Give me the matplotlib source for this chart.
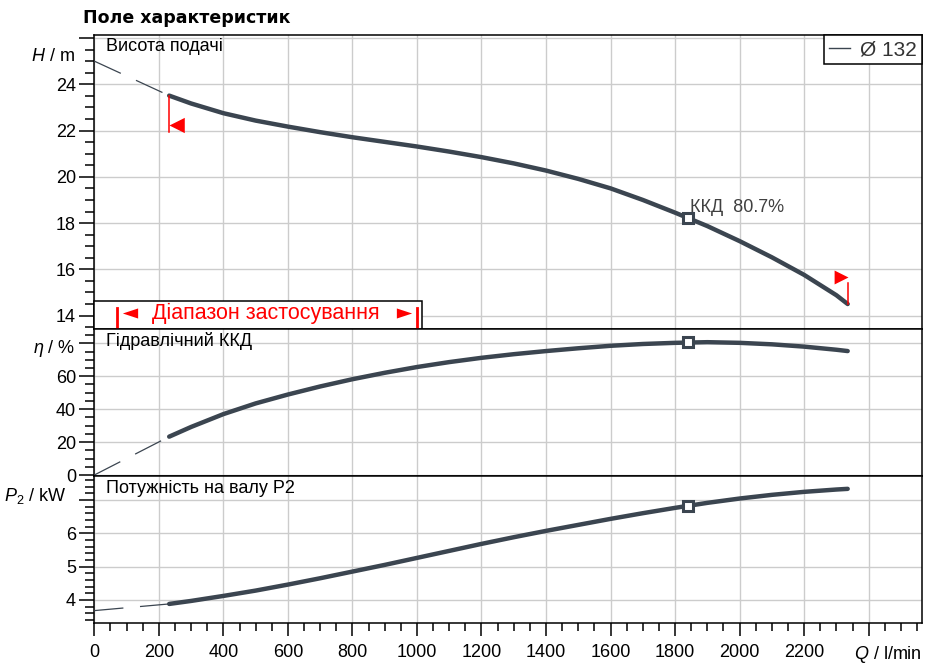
import numpy as np
import matplotlib
matplotlib.use('Agg')
import matplotlib.pyplot as plt
from matplotlib.ticker import MultipleLocator, FixedLocator, FixedFormatter
from matplotlib.patches import Rectangle

plt.rcParams['font.family'] = ['Liberation Sans', 'DejaVu Sans']
plt.rcParams['mathtext.fontset'] = 'custom'
plt.rcParams['mathtext.rm'] = 'Liberation Sans'
plt.rcParams['mathtext.it'] = 'Liberation Sans:italic'
plt.rcParams['lines.scale_dashes'] = False

# flow, l/min
q = [232, 300, 400, 500, 600, 700, 800, 900, 1000, 1100, 1200, 1300, 1400,
     1500, 1600, 1700, 1800, 1900, 2000, 2100, 2200, 2300, 2335]
head = [23.51, 23.17, 22.75, 22.43, 22.17, 21.93, 21.71, 21.51, 21.31, 21.09,
        20.85, 20.58, 20.27, 19.91, 19.50, 19.00, 18.45, 17.87, 17.22, 16.52,
        15.76, 14.88, 14.50]
eta = [23.3, 29.2, 37.0, 43.5, 48.9, 53.8, 58.2, 62.1, 65.6, 68.6, 71.2, 73.4,
       75.3, 77.0, 78.5, 79.6, 80.3, 80.7, 80.3, 79.4, 78.0, 76.1, 75.3]
power = [3.88, 3.97, 4.12, 4.28, 4.46, 4.65, 4.85, 5.05, 5.26, 5.47, 5.68,
         5.88, 6.07, 6.25, 6.43, 6.60, 6.76, 6.91, 7.04, 7.15, 7.24, 7.31, 7.33]

# dashed extrapolation to Q = 0
q_ext = [0, 232]
head_ext = [25.0, 23.51]
eta_ext = [0, 23.3]
power_ext = [3.68, 3.88]

# best efficiency point
q_bep = 1841
head_bep = 18.22
eta_bep = 80.7
power_bep = 6.83

# application range marks
range_marks = [70, 1000]

curve_col = '#3b4550'
grid_col = '#cccccc'
red = '#ff0000'

fig = plt.figure(figsize=(9.34, 6.72), dpi=100)
L, W = 0.101, 0.8857
ax1 = fig.add_axes([L, 0.5104, W, 0.4375])
ax2 = fig.add_axes([L, 0.2924, W, 0.2180])
ax3 = fig.add_axes([L, 0.0725, W, 0.2199])

for ax in (ax1, ax2, ax3):
    ax.set_xlim(0, 2564)
    ax.xaxis.set_major_locator(MultipleLocator(200))
    ax.xaxis.set_minor_locator(MultipleLocator(50))
    ax.grid(True, which='major', color=grid_col, lw=1.0, zorder=0)
    ax.set_axisbelow(True)
    for s in ax.spines.values():
        s.set_linewidth(1.1)
    ax.tick_params(axis='y', which='major', direction='out', length=10.8, width=1.1,
                   pad=2.4, labelsize=13)
    ax.tick_params(axis='y', which='minor', direction='out', length=6.5, width=1.1)

for ax in (ax1, ax2):
    ax.tick_params(axis='x', which='both', length=0, labelbottom=False)

ax3.tick_params(axis='x', which='major', direction='out', length=9.5, width=1.1,
                pad=5.5, labelsize=13)
ax3.tick_params(axis='x', which='minor', direction='out', length=6, width=1.1)
xt = list(range(0, 2600, 200))
ax3.xaxis.set_major_locator(FixedLocator(xt))
ax3.xaxis.set_major_formatter(FixedFormatter([str(v) if v < 2400 else '' for v in xt]))

# head panel
ax1.set_ylim(13.42, 26.13)
yt = [14, 16, 18, 20, 22, 24, 26]
ax1.yaxis.set_major_locator(FixedLocator(yt))
ax1.yaxis.set_major_formatter(FixedFormatter([str(v) if v < 26 else '' for v in yt]))
ax1.yaxis.set_minor_locator(MultipleLocator(0.5))

# efficiency panel
ax2.set_ylim(-0.3, 88.7)
yt = [0, 20, 40, 60, 80]
ax2.yaxis.set_major_locator(FixedLocator(yt))
ax2.yaxis.set_major_formatter(FixedFormatter([str(v) if v < 80 else '' for v in yt]))
ax2.yaxis.set_minor_locator(MultipleLocator(5))

# power panel
ax3.set_ylim(3.30, 7.73)
yt = [4, 5, 6, 7]
ax3.yaxis.set_major_locator(FixedLocator(yt))
ax3.yaxis.set_major_formatter(FixedFormatter([str(v) if v < 7 else '' for v in yt]))
ax3.yaxis.set_minor_locator(MultipleLocator(0.2))

for ax, y, ye, yb in ((ax1, head, head_ext, head_bep),
                      (ax2, eta, eta_ext, eta_bep),
                      (ax3, power, power_ext, power_bep)):
    ax.plot(q_ext, ye, color=curve_col, lw=0.9, dashes=(21, 12), zorder=3, clip_on=False)
    ax.plot(q, y, color=curve_col, lw=3.2, solid_capstyle='round',
            solid_joinstyle='round', zorder=4)
    ax.plot([q_bep], [yb], marker='s', ms=7, mfc='white', mec=curve_col, mew=2.2,
            zorder=5)

ax1.annotate('ККД  80.7%', xy=(q_bep, head_bep), xytext=(1, 4.5),
             textcoords='offset points', ha='left', va='baseline', fontsize=13,
             color='#404040', zorder=6)

# operating range limits on head curve
tri_left = [(0, 0), (1, 0.5), (1, -0.5)]
tri_right = [(0, 0), (-1, 0.5), (-1, -0.5)]
ax1.plot([q[0], q[0]], [head[0], 21.93], color=red, lw=1.1, zorder=5)
ax1.plot([q[0]], [22.24], marker=tri_left, ms=22, color=red, mew=0, zorder=5)
ax1.plot([2336, 2336], [15.40, head[-1]], color=red, lw=1.1, zorder=5)
ax1.plot([2336], [15.68], marker=tri_right, ms=20, color=red, mew=0, zorder=5)

# application range box
ax1.add_patch(Rectangle((0, 13.42), 1015, 14.64 - 13.42, facecolor='white',
                        edgecolor='black', lw=1.1, zorder=6, clip_on=False))
for xm in range_marks:
    ax1.plot([xm, xm], [13.48, 14.32], color=red, lw=2.0, zorder=7)
arrow_l = [(-1, 0), (1, 0.66), (1, -0.66)]
arrow_r = [(1, 0), (-1, 0.66), (-1, -0.66)]
ax1.plot([109], [14.1], marker=arrow_l, ms=11, color=red, mew=0, zorder=7)
ax1.plot([960], [14.1], marker=arrow_r, ms=11, color=red, mew=0, zorder=7)
ax1.text(531, 14.08, 'Діапазон застосування', color=red, fontsize=15.5,
         ha='center', va='center', zorder=7)

# legend
leg = ax1.legend(handles=[plt.Line2D([], [], color=curve_col, lw=1.0)],
                 labels=['Ø 132'], loc='upper right', fontsize=15,
                 handlelength=1.0, handletextpad=0.45, borderpad=0.25,
                 borderaxespad=0, fancybox=False, framealpha=1, edgecolor='black')
leg.get_frame().set_linewidth(1.1)
for t in leg.get_texts():
    t.set_color('#333333')

# panel titles
panel_txt = [(ax1, 'Висота подачі', -8.4), (ax2, 'Гідравлічний ККД', -8.6),
             (ax3, 'Потужність на валу P2', -9.0)]
for ax, s, dy in panel_txt:
    ax.annotate(s, xy=(0, 1), xycoords='axes fraction', xytext=(8.4, dy),
                textcoords='offset points', ha='left', va='center', fontsize=13)

# axis names
ax1.annotate('$H$ / m', xy=(0, 25.22), xycoords=('axes fraction', 'data'),
             xytext=(-14, 0), textcoords='offset points', ha='right', va='center',
             fontsize=13)
ax2.annotate(r'$\eta$ / %', xy=(0, 77.0), xycoords=('axes fraction', 'data'),
             xytext=(-14, 0), textcoords='offset points', ha='right', va='center',
             fontsize=13)
ax3.annotate('$P_2$ / kW', xy=(0, 7.12), xycoords=('axes fraction', 'data'),
             xytext=(-20, 0), textcoords='offset points', ha='right', va='center',
             fontsize=13)
ax3.annotate('$Q$ / l/min', xy=(1, 0), xycoords='axes fraction',
             xytext=(0, -15), textcoords='offset points', ha='right', va='top',
             fontsize=13)

fig.text(0.089, 1 - 18.3 / 672, 'Поле характеристик', fontsize=12.5,
         fontweight='bold', family='DejaVu Sans', ha='left', va='center')

fig.savefig('out.png', dpi=100)
